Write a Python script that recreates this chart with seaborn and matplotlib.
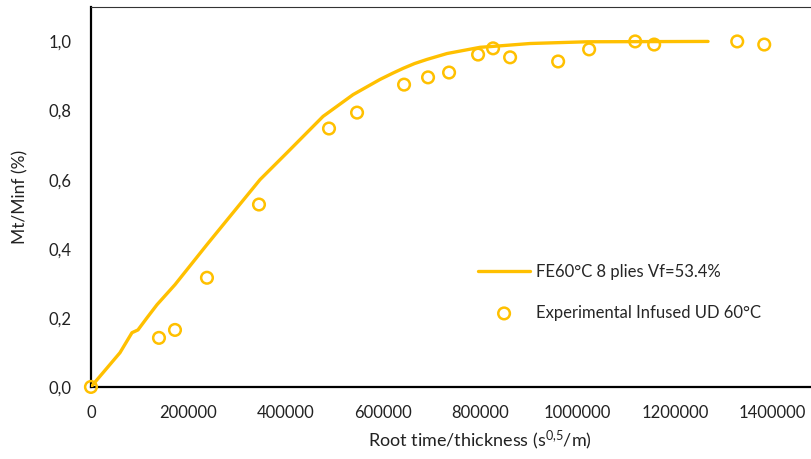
import matplotlib
matplotlib.use("Agg")
import matplotlib.pyplot as plt
import seaborn as sns
import pandas as pd
from matplotlib.ticker import FuncFormatter

# FE model curve
fe_x = [0, 59600, 84300, 96600, 115100, 135700, 172700, 238400, 347400, 402900,
        476900, 538600, 594000, 620000, 641300, 665000, 690600, 731700, 799600,
        820000, 902400, 1019500, 1268000]
fe_y = [0.0, 0.099, 0.157, 0.165, 0.200, 0.238, 0.296, 0.412, 0.600, 0.678,
        0.783, 0.846, 0.890, 0.908, 0.922, 0.936, 0.948, 0.965, 0.983,
        0.985, 0.994, 0.999, 1.000]

# experimental points
exp_x = [0, 139800, 172700, 238400, 345300, 489200, 546800, 643400, 692700,
         735900, 795500, 826300, 861300, 960000, 1023700, 1118300, 1157300,
         1328000, 1383500]
exp_y = [0.0, 0.142, 0.165, 0.316, 0.528, 0.748, 0.794, 0.875, 0.896, 0.910,
         0.962, 0.980, 0.954, 0.942, 0.977, 1.000, 0.991, 1.000, 0.991]

x_ticks = [0, 200000, 400000, 600000, 800000, 1000000, 1200000, 1400000]
y_ticks = [0.0, 0.2, 0.4, 0.6, 0.8, 1.0]

gold = "#FFC000"

sns.set_style("white")
plt.rcParams["font.family"] = ["Lato", "DejaVu Sans"]
plt.rcParams["mathtext.fontset"] = "custom"
plt.rcParams["mathtext.rm"] = "Lato"
plt.rcParams["mathtext.it"] = "Lato"

fe = pd.DataFrame({"x": fe_x, "y": fe_y})
ex = pd.DataFrame({"x": exp_x, "y": exp_y})

fig = plt.figure(figsize=(8.12, 4.59), dpi=100)
ax = fig.add_axes([0.112, 0.157, 0.899, 0.828])

sns.lineplot(data=fe, x="x", y="y", ax=ax, color=gold, linewidth=2.4,
             label="FE60°C 8 plies Vf=53.4%", zorder=3)
sns.scatterplot(data=ex, x="x", y="y", ax=ax, marker="o", s=70,
                facecolor="none", edgecolor=gold, linewidth=1.8,
                label="Experimental Infused UD 60°C", clip_on=False, zorder=4)

ax.set_xlim(0, 1500000)
ax.set_ylim(0, 1.1)
ax.set_xticks(x_ticks)
ax.set_yticks(y_ticks)
ax.xaxis.set_major_formatter(FuncFormatter(lambda v, p: f"{int(v)}"))
ax.yaxis.set_major_formatter(FuncFormatter(lambda v, p: f"{v:.1f}".replace(".", ",")))
ax.tick_params(axis="both", direction="in", length=4.5, width=1.2,
               labelsize=12, colors="black", labelcolor="#222222")
ax.tick_params(axis="x", pad=13)
ax.tick_params(axis="y", pad=14)

for side in ["left", "bottom"]:
    ax.spines[side].set_color("black")
    ax.spines[side].set_linewidth(1.6)
ax.spines["top"].set_color("#333333")
ax.spines["top"].set_linewidth(0.8)
ax.spines["right"].set_visible(False)

ax.set_xlabel("Root time/thickness (s$^{0{,}5}$/m)", fontsize=13, color="#222222")
ax.set_ylabel("Mt/Minf (%)", fontsize=12.5, color="#222222")
ax.xaxis.set_label_coords(0.533, -0.11)
ax.yaxis.set_label_coords(-0.086, 0.5)

ax.legend(loc="center left", bbox_to_anchor=(0.51, 0.249), frameon=False,
          fontsize=12, handlelength=3.1, labelspacing=1.5, handletextpad=0.35,
          markerscale=1.0)

fig.savefig("out.png", dpi=100)
